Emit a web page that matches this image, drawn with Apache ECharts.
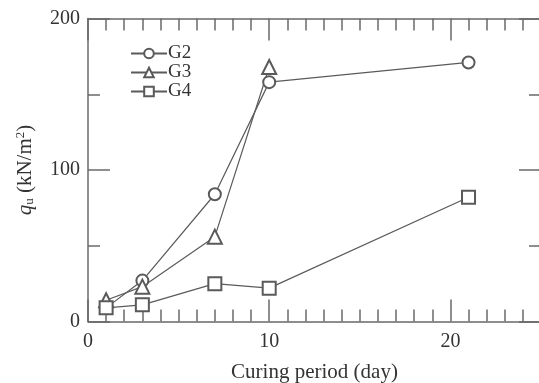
<!DOCTYPE html>
<html>
<head>
<meta charset="utf-8">
<script src="https://cdn.jsdelivr.net/npm/echarts@6/dist/echarts.min.js"></script>
<style>
  html, body { margin: 0; padding: 0; background: #fff; }
  #chart { width: 539px; height: 383px; }
</style>
</head>
<body>
<div id="chart"></div>
<script>
// curing period (day) vs qu (kN/m2)
var days = [1, 3, 7, 10, 21];
var g2 = [9, 27, 84, 158, 171];
var g3 = [14, 23, 56, 168, null];
var g4 = [9, 11, 25, 22, 82];
var xTicks = [0, 10, 20];
var yTicks = [0, 100, 200];

var axisGray = '#6a6a6a';
var lineGray = '#5a5a5a';
var textGray = '#333';
var serif = '"Liberation Serif", "DejaVu Serif", serif';

function pairs(ys) {
    var out = [];
    days.forEach(function (d, i) {
        if (ys[i] != null) out.push([d, ys[i]]);
    });
    return out;
}

var myChart = echarts.init(document.getElementById('chart'));

function xAx(pos, major, showLabel) {
    return {
        type: 'value',
        position: pos,
        min: 0,
        max: 25,
        interval: major ? 10 : 1,
        axisLine: { show: major, onZero: false, lineStyle: { color: axisGray, width: 1.5 } },
        axisTick: {
            show: true,
            inside: true,
            length: major ? 22 : 12,
            lineStyle: { color: axisGray, width: 1.5 }
        },
        axisLabel: {
            show: showLabel,
            showMaxLabel: false,
            margin: 10,
            color: textGray,
            fontFamily: serif,
            fontSize: 20
        },
        splitLine: { show: false },
        name: showLabel ? 'Curing period (day)' : '',
        nameLocation: 'middle',
        nameGap: 40,
        nameTextStyle: { color: textGray, fontFamily: serif, fontSize: 21 }
    };
}

function yAx(pos, showLabel) {
    return {
        type: 'value',
        position: pos,
        min: 0,
        max: 200,
        interval: 100,
        axisLine: { show: showLabel, onZero: false, lineStyle: { color: axisGray, width: 1.5 } },
        axisTick: { show: true, inside: true, length: 22, lineStyle: { color: axisGray, width: 1.5 } },
        minorTick: { show: true, splitNumber: 2, length: 12, lineStyle: { color: axisGray, width: 1.5 } },
        axisLabel: {
            show: showLabel,
            margin: 8,
            color: textGray,
            fontFamily: serif,
            fontSize: 20
        },
        splitLine: { show: false },
        name: showLabel ? '{it|q}{sub|u} (kN/m{sup|2})' : '',
        nameLocation: 'middle',
        nameGap: 52,
        nameTextStyle: {
            color: textGray,
            fontFamily: serif,
            fontSize: 21,
            rich: {
                it: { fontStyle: 'italic', fontFamily: serif, fontSize: 21, color: textGray },
                sub: { fontFamily: serif, fontSize: 13, color: textGray, verticalAlign: 'bottom', padding: [9, 0, 0, 0] },
                sup: { fontFamily: serif, fontSize: 13, color: textGray, verticalAlign: 'top', padding: [0, 0, 9, 0] }
            }
        }
    };
}

var option = {
    animation: false,
    grid: { left: 88, top: 18.5, width: 453, height: 303, containLabel: false, outerBoundsMode: 'none' },
    legend: {
        orient: 'vertical',
        left: 125,
        top: 39,
        itemWidth: 36,
        itemHeight: 12,
        itemGap: 0,
        textStyle: { color: textGray, fontFamily: serif, fontSize: 19, padding: [0, 0, 0, -4] },
        data: ['G2', 'G3', 'G4']
    },
    xAxis: [
        xAx('bottom', true, true),
        xAx('bottom', false, false),
        xAx('top', true, false),
        xAx('top', false, false)
    ],
    yAxis: [
        yAx('left', true),
        yAx('right', false)
    ],
    series: [
        {
            name: 'G2', type: 'line', data: pairs(g2),
            symbol: 'emptyCircle', symbolSize: 12,
            lineStyle: { color: lineGray, width: 1.2 },
            itemStyle: { color: lineGray, borderWidth: 1.3 }
        },
        {
            name: 'G3', type: 'line', data: pairs(g3),
            symbol: 'emptyTriangle', symbolSize: 14,
            lineStyle: { color: lineGray, width: 1.2 },
            itemStyle: { color: lineGray, borderWidth: 1.3 }
        },
        {
            name: 'G4', type: 'line', data: pairs(g4),
            symbol: 'emptyRect', symbolSize: 13,
            lineStyle: { color: lineGray, width: 1.2 },
            itemStyle: { color: lineGray, borderWidth: 1.3 }
        }
    ]
};

myChart.setOption(option, true);
</script>
</body>
</html>
